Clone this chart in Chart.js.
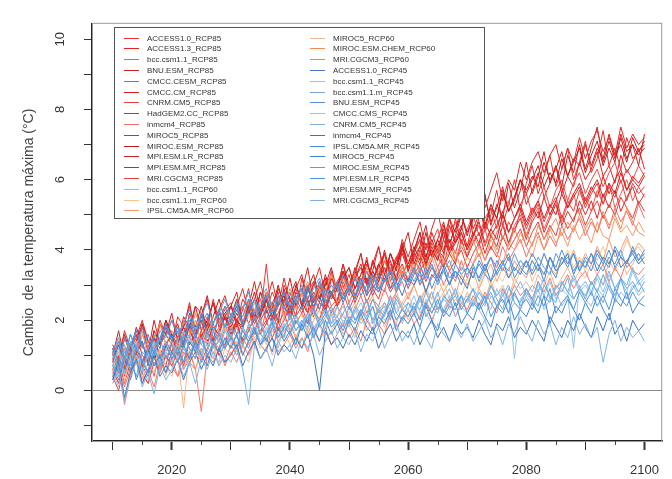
<!DOCTYPE html>
<html>
<head>
<meta charset="utf-8">
<script src="https://cdn.jsdelivr.net/npm/chart.js@4.4.0/dist/chart.umd.min.js"></script>
<style>
  body { margin: 0; background: #fff; }
  canvas { display: block; }
</style>
</head>
<body>
<canvas id="my-chart" width="672" height="479"></canvas>
<script>
'use strict';

// Years
let years = [
  2010, 2011, 2012, 2013, 2014, 2015, 2016, 2017, 2018, 2019,
  2020, 2021, 2022, 2023, 2024, 2025, 2026, 2027, 2028, 2029,
  2030, 2031, 2032, 2033, 2034, 2035, 2036, 2037, 2038, 2039,
  2040, 2041, 2042, 2043, 2044, 2045, 2046, 2047, 2048, 2049,
  2050, 2051, 2052, 2053, 2054, 2055, 2056, 2057, 2058, 2059,
  2060, 2061, 2062, 2063, 2064, 2065, 2066, 2067, 2068, 2069,
  2070, 2071, 2072, 2073, 2074, 2075, 2076, 2077, 2078, 2079,
  2080, 2081, 2082, 2083, 2084, 2085, 2086, 2087, 2088, 2089,
  2090, 2091, 2092, 2093, 2094, 2095, 2096, 2097, 2098, 2099,
  2100];

let xTickLabels = [2020, 2040, 2060, 2080, 2100];
let yTickLabels = [0, 2, 4, 6, 8, 10];

// RCP85
let access10_85 = [
  1.1, 0.6, 1.5, 1.3, 0.8, 1.9, 1.4, 1.2, 2.0, 1.6,
  1.3, 2.1, 1.8, 1.5, 2.4, 2.2, 1.7, 2.6, 2.0, 2.3,
  2.5, 1.8, 2.3, 2.9, 2.0, 2.2, 2.8, 2.4, 1.9, 3.0,
  2.6, 2.1, 3.2, 2.5, 2.3, 3.1, 2.6, 3.4, 2.4, 2.9,
  3.3, 2.7, 3.0, 3.8, 2.9, 3.2, 3.9, 3.1, 3.5, 4.2,
  3.4, 3.9, 4.5, 3.5, 4.1, 3.7, 4.6, 4.0, 4.9, 4.2,
  4.1, 4.9, 5.4, 4.5, 5.0, 5.7, 4.7, 5.3, 6.0, 5.1,
  5.9, 6.4, 5.6, 6.1, 6.7, 5.8, 6.3, 6.9, 6.0, 6.5,
  7.1, 6.2, 6.6, 7.4, 6.4, 6.9, 6.3, 7.2, 6.6, 6.8,
  7.0];
let access13_85 = [
  0.9, 1.4, 0.7, 1.2, 1.6, 1.0, 0.8, 1.7, 1.3, 1.9,
  1.5, 1.2, 2.0, 1.7, 1.4, 2.2, 1.9, 2.5, 1.8, 2.1,
  2.4, 1.9, 2.6, 2.3, 2.0, 2.8, 2.5, 3.1, 2.4, 2.7,
  2.1, 2.8, 2.5, 3.0, 2.3, 2.8, 3.2, 2.6, 2.9, 3.4,
  2.8, 3.2, 3.6, 3.0, 3.7, 3.3, 3.1, 3.9, 3.5, 4.1,
  3.5, 3.9, 4.3, 3.7, 4.5, 4.0, 3.8, 4.7, 4.2, 4.6,
  5.3, 4.6, 5.0, 5.5, 4.8, 5.2, 5.8, 5.1, 5.4, 6.0,
  5.3, 5.7, 6.2, 5.5, 5.9, 6.4, 5.6, 6.1, 5.8, 6.5,
  6.0, 6.3, 6.8, 6.1, 6.4, 5.9, 6.7, 6.2, 6.5, 6.9,
  6.3];
let bcc_85 = [
  0.5, 0.9, 0.2, 0.8, 1.2, 0.6, 1.0, 0.4, 1.1, 0.9,
  1.3, 0.8, 1.2, 1.6, 1.1, 0.9, 1.7, 1.4, 1.2, 1.8,
  1.5, 2.0, 1.3, 1.7, 2.1, 1.6, 2.3, 1.9, 1.7, 2.4,
  2.0, 2.5, 2.2, 1.9, 2.7, 2.3, 2.9, 2.4, 2.6, 3.0,
  2.5, 2.9, 3.2, 2.7, 3.4, 3.0, 2.8, 3.6, 3.2, 3.5,
  3.1, 3.8, 3.4, 3.7, 4.0, 3.5, 3.9, 4.3, 3.7, 4.1,
  3.8, 4.4, 4.1, 4.6, 4.0, 4.5, 4.8, 4.2, 4.7, 5.0,
  4.4, 4.9, 5.2, 4.6, 5.0, 5.4, 4.8, 5.3, 5.6, 5.0,
  5.5, 5.1, 5.7, 5.3, 5.9, 5.2, 5.6, 6.0, 5.4, 5.8,
  5.5];
let bnu_85 = [
  1.2, 0.8, 1.6, 1.0, 1.4, 1.9, 1.1, 1.5, 1.3, 2.0,
  1.6, 1.3, 2.1, 1.8, 2.4, 1.7, 2.0, 2.5, 1.9, 2.2,
  2.4, 2.0, 1.7, 2.6, 2.1, 2.8, 2.2, 2.5, 2.0, 2.9,
  2.3, 3.0, 2.5, 2.2, 3.1, 2.6, 3.3, 2.7, 2.5, 3.4,
  2.9, 3.5, 3.0, 2.8, 3.7, 3.2, 4.0, 3.3, 3.7, 4.2,
  3.6, 4.1, 3.7, 4.5, 3.8, 4.3, 4.8, 4.0, 4.4, 5.0,
  4.4, 5.0, 5.4, 4.6, 5.2, 4.9, 5.7, 5.1, 5.5, 6.0,
  5.7, 6.1, 5.8, 6.5, 6.0, 6.3, 6.8, 6.1, 6.6, 6.4,
  7.0, 6.4, 6.9, 6.6, 7.3, 6.7, 7.0, 6.5, 7.2, 6.8,
  7.1];
let cmccCesm_85 = [
  0.8, 1.3, 0.5, 1.0, 1.4, 0.7, 1.2, 1.5, 0.9, 1.3,
  1.6, 1.1, 1.5, 1.9, 1.3, 1.7, 2.1, 1.5, 1.8, 2.2,
  1.7, 2.0, 2.4, 1.9, 2.3, 2.6, 2.0, 2.5, 2.8, 2.2,
  2.6, 2.9, 2.4, 2.8, 3.1, 2.6, 3.0, 3.3, 2.8, 3.2,
  3.5, 2.9, 3.3, 3.7, 3.1, 3.6, 3.9, 3.4, 3.8, 4.1,
  3.6, 4.0, 4.3, 3.8, 4.2, 4.6, 4.0, 4.5, 4.8, 4.2,
  4.6, 5.0, 4.4, 4.9, 5.2, 4.6, 5.1, 5.4, 4.9, 5.3,
  5.6, 5.0, 5.4, 5.8, 5.2, 5.7, 6.0, 5.4, 5.9, 6.2,
  5.6, 6.0, 6.3, 5.8, 6.2, 6.5, 5.9, 6.3, 6.0, 6.4,
  6.1];
let cmccCm_85 = [
  1.0, 1.7, 0.9, 0.5, 1.4, 1.8, 1.1, 2.0, 1.3, 1.6,
  2.2, 1.4, 1.8, 2.5, 1.6, 2.1, 2.7, 1.9, 2.3, 1.8,
  2.4, 2.8, 1.9, 2.4, 3.1, 2.2, 2.6, 2.0, 2.9, 2.5,
  3.2, 2.4, 2.8, 3.5, 2.5, 3.0, 2.3, 3.2, 2.9, 3.6,
  2.8, 3.3, 3.9, 3.0, 3.4, 4.1, 3.3, 3.7, 3.1, 4.0,
  4.5, 3.6, 4.1, 4.7, 3.8, 4.3, 3.9, 4.9, 4.2, 4.6,
  5.3, 4.4, 4.9, 5.6, 4.7, 5.3, 4.9, 5.9, 5.2, 5.7,
  6.5, 5.6, 6.1, 6.8, 5.9, 6.4, 5.8, 6.7, 6.2, 7.0,
  6.3, 6.9, 7.5, 6.5, 7.1, 6.6, 7.3, 6.8, 7.0, 6.4,
  7.3];
let cnrm_85 = [
  0.6, 1.0, 0.4, 1.2, 0.8, 0.5, 1.3, 0.9, 1.1, 0.7,
  1.4, 1.0, 1.6, 1.2, 0.9, 1.7, 1.3, 1.9, 1.5, 1.3,
  2.0, 1.6, 1.9, 2.3, 1.7, 2.1, 3.6, 1.9, 2.2, 2.6,
  2.1, 2.4, 2.8, 2.2, 2.6, 3.0, 2.4, 2.8, 2.5, 3.1,
  2.7, 3.2, 2.9, 3.4, 3.0, 3.6, 3.1, 3.4, 3.8, 3.2,
  3.7, 3.4, 4.0, 3.6, 4.2, 3.8, 3.5, 4.3, 3.9, 4.5,
  4.0, 4.4, 4.7, 4.1, 4.6, 4.9, 4.3, 4.8, 4.5, 5.1,
  4.6, 5.0, 5.3, 4.8, 5.2, 5.5, 4.9, 5.4, 5.1, 5.7,
  5.2, 5.6, 5.9, 5.3, 5.8, 5.5, 6.0, 5.4, 5.9, 5.6,
  5.8];
let hadgem_85 = [
  1.3, 0.9, 1.7, 1.2, 1.5, 2.0, 1.4, 1.1, 1.9, 1.6,
  2.0, 1.5, 1.8, 2.4, 1.7, 2.1, 2.6, 1.9, 2.3, 2.7,
  2.1, 2.4, 2.9, 2.2, 2.6, 3.1, 2.3, 2.8, 2.4, 3.2,
  2.5, 2.9, 3.3, 2.6, 3.0, 3.5, 2.7, 3.2, 2.9, 3.6,
  3.0, 3.4, 3.9, 3.1, 3.6, 4.1, 3.3, 3.9, 3.5, 4.3,
  3.8, 4.3, 4.8, 4.0, 4.6, 5.1, 4.3, 4.9, 4.5, 5.3,
  4.9, 5.5, 5.9, 5.2, 5.7, 6.2, 5.4, 6.0, 5.7, 6.5,
  6.0, 6.5, 6.8, 6.2, 6.7, 7.0, 6.3, 6.9, 6.5, 7.2,
  6.6, 7.1, 7.4, 6.8, 7.2, 6.7, 7.5, 6.9, 7.3, 7.0,
  7.2];
let inmcm4_85 = [
  0.3, 0.7, 0.1, 0.6, 0.9, 0.4, 0.2, 0.8, 0.5, 1.0,
  0.7, 0.4, 1.1, 0.8, 0.6, 1.2, 0.9, 1.4, 1.0, 0.8,
  1.3, 1.0, 1.5, 1.2, 1.7, 1.3, 1.1, 1.8, 1.4, 1.6,
  1.9, 1.5, 1.8, 2.2, 1.7, 2.0, 2.4, 1.9, 2.1, 2.5,
  2.0, 2.3, 2.7, 2.2, 2.6, 2.4, 2.9, 2.5, 2.8, 3.1,
  2.6, 3.0, 3.3, 2.8, 3.2, 3.5, 3.0, 3.4, 3.1, 3.7,
  3.2, 3.6, 3.9, 3.4, 3.8, 3.5, 4.1, 3.7, 4.0, 4.3,
  3.8, 4.2, 4.5, 4.0, 4.4, 4.1, 4.7, 4.3, 4.6, 4.9,
  4.4, 4.8, 4.5, 5.0, 4.6, 5.2, 4.8, 5.1, 4.7, 5.3,
  4.9];
let miroc5_85 = [
  0.6, 0.2, 0.9, 0.5, 1.1, 0.7, 0.4, 1.0, 0.8, 1.3,
  0.9, 1.2, 0.7, 1.4, 1.1, 1.6, 1.0, 1.3, 1.7, 1.2,
  1.5, 1.9, 1.4, 1.7, 2.1, 1.6, 1.9, 2.3, 1.7, 2.0,
  2.4, 1.9, 2.2, 2.6, 2.1, 2.5, 2.3, 2.8, 2.4, 2.7,
  3.0, 2.5, 2.9, 3.2, 2.7, 3.1, 3.5, 2.9, 3.3, 3.6,
  3.1, 3.5, 3.9, 3.3, 3.7, 4.1, 3.5, 3.9, 3.6, 4.3,
  3.8, 4.2, 4.5, 3.9, 4.4, 4.1, 4.7, 4.2, 4.6, 4.9,
  4.3, 4.8, 5.1, 4.5, 4.9, 5.3, 4.7, 5.1, 4.8, 5.4,
  5.0, 5.4, 4.9, 5.6, 5.2, 5.7, 5.1, 5.5, 5.8, 5.3,
  5.6];
let mirocEsm_85 = [
  1.2, 0.7, 1.5, 1.1, 1.8, 1.3, 1.0, 1.7, 1.4, 2.0,
  1.5, 1.9, 1.3, 2.2, 1.8, 2.4, 1.7, 2.1, 2.6, 2.0,
  2.1, 2.6, 1.9, 2.3, 2.8, 2.1, 2.6, 2.3, 3.0, 2.4,
  2.7, 3.1, 2.4, 2.9, 3.3, 2.6, 3.0, 3.5, 2.8, 3.2,
  3.5, 2.9, 3.3, 3.7, 3.1, 3.6, 3.3, 3.9, 3.4, 4.1,
  3.6, 4.0, 4.5, 3.8, 4.3, 3.9, 4.7, 4.2, 4.6, 5.0,
  4.5, 4.9, 5.4, 4.7, 5.3, 4.9, 5.6, 5.1, 5.5, 6.0,
  5.6, 6.0, 6.4, 5.8, 6.2, 5.9, 6.6, 6.1, 6.5, 6.9,
  6.2, 6.7, 7.1, 6.4, 6.9, 6.5, 7.2, 6.6, 7.0, 6.7,
  6.9];
let mpiLr_85 = [
  0.9, 0.5, 1.2, 0.7, 1.0, 1.4, 0.8, 1.1, 0.6, 1.3,
  1.6, 1.0, 1.4, 1.8, 1.2, 1.5, 1.9, 1.4, 1.7, 2.1,
  1.6, 2.0, 1.8, 2.3, 1.9, 2.2, 2.6, 2.0, 2.4, 2.7,
  2.2, 2.6, 2.9, 2.4, 2.8, 2.5, 3.1, 2.7, 3.0, 3.3,
  2.8, 3.2, 3.5, 3.0, 3.4, 3.1, 3.7, 3.3, 3.6, 3.9,
  3.4, 3.8, 4.1, 3.6, 4.0, 3.7, 4.3, 3.9, 4.2, 4.5,
  4.0, 4.4, 4.8, 4.2, 4.6, 4.3, 5.0, 4.5, 4.9, 5.2,
  4.7, 5.1, 5.4, 4.9, 5.3, 5.0, 5.6, 5.2, 5.5, 5.8,
  5.3, 5.7, 6.0, 5.5, 5.9, 5.6, 6.2, 5.7, 6.0, 5.8,
  6.1];
let mpiMr_85 = [
  0.7, 1.1, 0.6, 0.9, 1.3, 0.8, 1.2, 1.5, 1.0, 1.4,
  1.1, 1.5, 1.8, 1.3, 1.6, 2.0, 1.4, 1.8, 1.6, 2.1,
  1.8, 2.2, 1.9, 2.4, 2.0, 2.3, 2.7, 2.1, 2.5, 2.8,
  2.3, 2.7, 2.5, 3.0, 2.6, 2.9, 3.2, 2.7, 3.1, 3.4,
  2.9, 3.3, 3.0, 3.6, 3.2, 3.5, 3.9, 3.3, 3.7, 4.0,
  3.5, 3.9, 3.6, 4.2, 3.8, 4.1, 4.5, 3.9, 4.3, 4.7,
  4.1, 4.5, 4.2, 4.8, 4.4, 4.7, 5.1, 4.5, 4.9, 5.3,
  4.8, 5.2, 4.9, 5.5, 5.0, 5.4, 5.8, 5.2, 5.6, 5.9,
  5.4, 5.8, 5.5, 6.1, 5.6, 6.0, 6.3, 5.7, 6.1, 5.9,
  6.2];
let mri_85 = [
  0.4, 0.0, 0.7, 0.3, 0.9, 0.5, 0.2, 0.8, 0.6, 1.0,
  0.7, 1.1, 0.6, 0.9, 1.3, 0.8, 1.2, 1.5, 1.0, 1.3,
  1.6, 1.2, 1.5, 1.8, 1.3, 1.7, 2.0, 1.5, 1.9, 2.2,
  1.7, 2.1, 2.4, 1.9, 2.3, 2.0, 2.6, 2.2, 2.5, 2.8,
  2.3, 2.7, 3.0, 2.5, 2.9, 2.6, 3.2, 2.8, 3.1, 3.4,
  2.9, 3.3, 3.6, 3.1, 3.5, 3.2, 3.8, 3.4, 3.7, 4.0,
  3.5, 3.9, 4.2, 3.7, 4.1, 3.8, 4.4, 4.0, 4.3, 4.6,
  4.1, 4.5, 4.8, 4.3, 4.7, 4.4, 5.0, 4.6, 4.9, 5.2,
  4.7, 5.1, 5.4, 4.9, 5.3, 5.0, 5.5, 5.2, 4.9, 5.4,
  5.1];

// RCP60
let bcc_60 = [
  0.9, 0.4, 1.2, 0.7, 1.0, 0.3, 0.8, 1.3, 0.6, 1.1,
  0.8, 1.4, 1.0, 0.7, 1.5, 1.1, 1.3, 0.9, 1.6, 1.2,
  1.5, 1.1, 1.8, 1.3, 1.6, 2.0, 1.4, 1.7, 1.5, 2.1,
  1.7, 1.9, 2.2, 1.6, 2.0, 2.3, 1.8, 2.1, 2.4, 1.9,
  2.2, 2.5, 2.0, 2.4, 2.7, 2.1, 2.5, 2.3, 2.8, 2.4,
  2.7, 3.0, 2.5, 2.9, 2.6, 3.2, 2.8, 3.1, 2.7, 3.3,
  3.0, 3.4, 2.9, 3.3, 3.6, 3.1, 3.5, 3.2, 3.7, 3.4,
  3.2, 3.7, 3.4, 3.9, 3.5, 3.3, 3.8, 3.6, 4.0, 3.5,
  3.9, 3.6, 4.1, 3.7, 4.3, 3.8, 4.0, 4.4, 3.9, 4.2,
  4.0];
let bccM_60 = [
  0.6, 1.1, 0.3, 0.9, 1.4, 0.5, 1.0, 0.7, 1.2, 0.4,
  1.0, 1.3, 0.8, 1.5, 1.1, 0.9, 1.6, 1.2, 1.4, 1.8,
  1.3, 1.6, 1.2, 1.9, 1.5, 1.7, 1.3, 2.0, 1.6, 1.8,
  2.1, 1.5, 1.9, 1.7, 2.2, 1.8, 2.0, 2.4, 1.9, 2.2,
  1.8, 2.3, 2.1, 2.6, 2.0, 2.4, 2.2, 2.7, 2.3, 2.5,
  2.8, 2.2, 2.6, 2.9, 2.4, 2.7, 3.1, 2.6, 2.9, 2.7,
  3.2, 2.8, 3.0, 3.4, 2.9, 3.3, 3.1, 3.5, 3.0, 3.4,
  3.7, 3.1, 3.5, 3.3, 3.8, 3.4, 3.6, 4.0, 3.5, 3.8,
  3.4, 3.9, 3.7, 4.1, 3.6, 4.0, 3.8, 4.3, 3.9, 4.1,
  3.8];
let ipsl_60 = [
  1.1, 0.7, 1.5, 1.0, 1.3, 1.7, 0.9, 1.4, 1.2, 1.8,
  1.4, 1.1, 1.7, 1.5, 2.0, 1.3, 1.8, 1.6, 2.2, 1.7,
  1.9, 2.3, 1.8, 2.1, 2.5, 1.9, 2.4, 2.2, 2.7, 2.1,
  2.5, 2.3, 2.8, 2.4, 2.2, 2.9, 2.6, 3.0, 2.5, 2.8,
  3.1, 2.6, 3.0, 2.8, 3.3, 2.9, 3.4, 3.1, 2.8, 3.5,
  3.2, 3.6, 3.0, 3.4, 3.8, 3.3, 3.7, 3.5, 4.0, 3.4,
  3.8, 3.6, 4.1, 3.7, 4.3, 3.9, 3.6, 4.2, 4.0, 4.5,
  4.1, 3.8, 4.4, 4.0, 4.6, 4.2, 4.5, 4.1, 4.7, 4.3,
  4.6, 4.2, 4.8, 4.4, 4.3, 4.9, 4.5, 4.7, 4.4, 4.8,
  4.5];
let miroc5_60 = [
  0.5, 0.9, -0.3, 0.6, 1.0, 0.3, 0.8, 0.5, 1.1, 0.7,
  0.4, 1.0, -0.5, 1.2, 0.6, 1.1, 0.9, 1.3, 0.7, 1.2,
  1.0, 1.4, 1.1, 0.8, 1.5, 1.2, 1.6, 1.0, 1.4, 1.7,
  1.3, 1.6, 1.2, 1.8, 1.5, 1.9, 1.4, 1.7, 2.0, 1.6,
  1.9, 1.5, 2.1, 1.7, 2.0, 2.3, 1.8, 2.2, 1.9, 2.4,
  2.0, 2.3, 2.1, 2.6, 2.2, 2.5, 2.8, 2.3, 2.6, 2.4,
  2.8, 2.5, 2.9, 2.6, 3.1, 2.7, 3.0, 2.6, 3.2, 2.9,
  3.1, 2.8, 3.3, 3.0, 3.4, 2.9, 3.2, 3.5, 3.1, 3.4,
  3.2, 3.6, 3.3, 3.0, 3.7, 3.4, 3.8, 3.3, 3.6, 3.9,
  3.6];
let mirocChem_60 = [
  1.0, 1.4, 0.8, 1.3, 0.9, 1.6, 1.2, 1.5, 1.9, 1.3,
  1.7, 1.4, 2.0, 1.6, 2.2, 1.8, 1.5, 2.1, 1.9, 2.4,
  2.0, 2.3, 1.9, 2.6, 2.2, 2.5, 2.8, 2.3, 2.6, 2.4,
  2.9, 2.5, 2.7, 3.1, 2.6, 3.0, 2.8, 3.3, 2.9, 3.2,
  2.8, 3.3, 3.0, 3.5, 3.1, 3.4, 3.7, 3.2, 3.6, 3.3,
  3.7, 3.4, 3.9, 3.5, 3.8, 4.1, 3.6, 4.0, 3.7, 4.2,
  3.9, 4.3, 3.8, 4.2, 4.5, 4.0, 4.4, 4.1, 4.6, 4.2,
  4.5, 4.1, 4.7, 4.3, 4.6, 4.9, 4.4, 4.8, 4.5, 5.0,
  4.6, 4.9, 4.5, 5.1, 4.7, 5.0, 4.6, 5.2, 4.8, 4.5,
  4.4];
let mri_60 = [
  0.3, 0.7, -0.4, 0.4, 0.9, 0.2, 0.6, 0.1, 0.8, 0.5,
  0.9, 0.4, 0.7, 1.1, 0.6, -0.6, 1.0, 0.8, 1.2, 0.7,
  1.1, 0.8, 1.3, 1.0, 1.4, 0.9, 1.2, 1.5, 1.1, 1.3,
  1.6, 1.2, 1.5, 1.1, 1.7, 1.4, 1.8, 1.3, 1.6, 1.9,
  1.5, 1.8, 1.4, 2.0, 1.7, 1.9, 1.6, 2.2, 1.8, 2.0,
  2.3, 1.9, 2.1, 2.5, 2.0, 2.4, 2.2, 2.6, 2.1, 2.5,
  2.3, 2.7, 2.4, 2.8, 2.5, 2.2, 2.9, 2.6, 3.0, 2.7,
  2.9, 2.5, 3.1, 2.8, 3.2, 2.7, 3.0, 3.3, 2.9, 3.2,
  3.4, 3.0, 3.3, 3.6, 3.1, 3.5, 3.2, 3.7, 3.4, 3.3,
  3.5];

// RCP45
let access10_45 = [
  0.8, 1.3, 0.9, 1.6, 1.1, 1.4, 0.7, 1.5, 1.2, 1.8,
  1.4, 1.7, 1.2, 1.9, 1.5, 2.1, 1.6, 1.4, 2.2, 1.8,
  2.0, 2.4, 1.8, 2.2, 2.6, 2.0, 2.3, 1.9, 2.7, 2.4,
  2.1, 2.6, 2.3, 2.9, 2.4, 2.7, 2.2, 2.8, 3.0, 2.5,
  2.9, 2.6, 3.2, 2.7, 3.0, 2.8, 3.3, 2.9, 3.1, 2.7,
  3.2, 3.0, 3.4, 2.8, 3.3, 3.1, 3.5, 3.0, 3.4, 3.2,
  2.9, 3.5, 3.2, 3.6, 3.1, 3.4, 3.7, 3.2, 3.5, 3.3,
  3.7, 3.3, 3.6, 3.1, 3.8, 3.4, 3.6, 3.9, 3.3, 3.7,
  3.5, 3.9, 3.4, 3.8, 3.6, 4.0, 3.5, 3.7, 3.9, 3.6,
  3.8];
let bcc_45 = [
  0.5, 0.1, 0.8, 0.4, 1.0, 0.6, 0.3, 0.9, 0.7, 1.1,
  0.8, 1.2, 0.6, 1.0, 1.3, 0.9, 1.4, 1.1, 0.8, 1.5,
  1.2, 1.6, 1.0, 1.4, 1.7, 1.3, 1.8, 1.5, 1.2, 1.9,
  1.6, 1.4, 2.0, 1.7, 1.5, 2.1, 1.8, 2.2, 1.6, 2.0,
  1.8, 2.3, 1.9, 2.1, 1.7, 2.4, 2.0, 2.2, 2.5, 1.9,
  2.3, 2.1, 2.6, 2.2, 1.9, 2.5, 2.3, 2.7, 2.1, 2.4,
  2.2, 2.6, 2.3, 2.0, 2.7, 2.4, 2.8, 2.2, 2.5, 2.3,
  2.7, 2.4, 2.9, 2.3, 2.6, 2.8, 2.4, 2.7, 1.2, 3.0,
  2.6, 2.4, 2.9, 2.7, 3.1, 2.5, 2.8, 2.6, 3.0, 2.7,
  2.9];
let bccM_45 = [
  1.0, 0.6, 1.3, 0.8, 0.4, 1.1, 0.9, 1.4, 0.7, 1.2,
  1.0, 1.5, 1.2, 0.9, 1.6, 1.3, 1.1, 1.7, 1.4, 1.2,
  1.8, 1.5, 1.3, 1.9, 1.6, 2.0, 1.4, 1.8, 2.1, 1.7,
  1.9, 2.2, 1.7, 2.0, 2.3, 1.8, 2.1, 2.4, 1.9, 2.2,
  2.5, 2.0, 2.3, 2.1, 2.6, 2.2, 2.4, 2.0, 2.7, 2.3,
  2.1, 2.5, 2.3, 2.8, 2.4, 2.2, 2.7, 2.5, 2.9, 2.3,
  2.6, 2.4, 2.8, 2.5, 3.0, 2.6, 2.3, 2.9, 2.7, 2.5,
  2.9, 2.6, 3.1, 2.7, 2.5, 3.0, 2.8, 3.2, 2.6, 2.9,
  2.7, 3.1, 2.8, 3.3, 2.9, 2.6, 3.2, 2.9, 3.1, 2.8,
  3.1];
let bnu_45 = [
  1.2, 0.8, 1.5, 1.1, 1.7, 1.3, 1.0, 1.6, 1.4, 1.9,
  1.5, 1.8, 1.3, 2.0, 1.7, 2.2, 1.6, 1.9, 2.3, 1.8,
  2.1, 2.5, 1.9, 2.3, 2.6, 2.2, 2.7, 2.0, 2.4, 2.8,
  2.3, 2.6, 2.9, 2.4, 2.7, 3.1, 2.5, 2.8, 3.0, 2.6,
  3.0, 2.7, 3.2, 2.8, 3.3, 2.9, 3.1, 3.4, 2.8, 3.2,
  3.0, 3.4, 3.1, 3.5, 2.9, 3.3, 3.6, 3.2, 3.4, 3.0,
  3.5, 3.2, 3.6, 3.3, 3.1, 3.7, 3.4, 3.8, 3.2, 3.5,
  3.3, 3.7, 3.4, 3.9, 3.5, 3.2, 3.8, 3.5, 3.9, 3.4,
  3.7, 3.4, 3.9, 3.6, 4.0, 3.5, 3.8, 3.6, 4.1, 3.7,
  3.9];
let cmcc_45 = [
  0.7, 1.2, 0.5, 0.9, 1.3, 0.6, 1.0, 1.4, 0.8, 1.1,
  1.4, 0.9, 1.2, 1.6, 1.1, 1.5, 1.0, 1.3, 1.7, 1.2,
  1.6, 1.3, 1.8, 1.5, 1.9, 1.4, 1.7, 2.0, 1.6, 1.9,
  1.7, 2.1, 1.8, 2.2, 1.6, 2.0, 2.3, 1.9, 2.1, 2.4,
  2.0, 2.2, 2.5, 2.1, 2.4, 1.9, 2.3, 2.6, 2.2, 2.5,
  2.3, 2.7, 2.2, 2.5, 2.8, 2.3, 2.6, 2.4, 2.9, 2.5,
  2.7, 2.4, 2.8, 2.6, 2.3, 2.9, 2.5, 2.7, 0.9, 2.6,
  2.8, 2.5, 3.0, 2.7, 3.1, 2.6, 2.9, 2.7, 3.2, 2.8,
  3.0, 2.7, 3.2, 2.8, 3.3, 2.9, 3.1, 2.8, 3.4, 3.0,
  3.2];
let cnrm_45 = [
  0.8, 0.4, 1.1, 0.7, 1.3, 0.9, 0.5, 1.2, 0.8, 1.4,
  1.0, 1.3, 0.8, 1.5, 1.2, 1.0, 1.6, 1.3, 1.1, 1.7,
  1.4, 1.2, 1.8, 1.5, 1.3, 1.9, 1.6, 2.0, 1.5, 1.8,
  2.1, 1.7, 1.9, 2.2, 1.8, 2.0, 2.3, 1.9, 2.4, 2.1,
  1.9, 2.4, 2.2, 2.6, 2.0, 2.3, 2.5, 2.1, 2.6, 2.3,
  2.5, 2.2, 2.7, 2.4, 2.8, 2.3, 2.6, 2.9, 2.4, 2.7,
  2.5, 2.9, 2.6, 2.4, 3.0, 2.7, 2.9, 2.5, 2.8, 3.1,
  2.7, 3.0, 2.8, 3.2, 2.6, 2.9, 3.1, 2.8, 3.3, 2.9,
  3.1, 2.8, 3.3, 3.0, 3.4, 2.9, 3.2, 3.0, 3.5, 3.1,
  3.3];
let inmcm4_45 = [
  0.3, 0.8, -0.2, 0.5, 0.9, 0.2, 0.6, 1.0, 0.4, 0.7,
  0.5, 0.9, 0.3, 0.8, 1.1, 0.6, 1.0, 0.7, 1.2, 0.8,
  1.0, 1.3, 0.7, 1.1, 1.4, 0.9, 1.2, 1.5, 1.0, 1.3,
  1.1, 1.5, 1.2, 1.6, 1.0, 0.0, 1.7, 1.3, 1.5, 1.2,
  1.6, 1.3, 1.7, 1.4, 1.8, 1.2, 1.6, 1.9, 1.4, 1.7,
  1.5, 1.9, 1.3, 1.7, 2.0, 1.5, 1.8, 1.4, 1.9, 1.6,
  1.8, 1.5, 2.0, 1.6, 1.3, 1.9, 1.7, 2.1, 1.5, 1.8,
  1.6, 2.0, 1.7, 1.4, 2.1, 1.8, 1.5, 2.0, 1.7, 2.2,
  1.8, 1.5, 2.1, 1.7, 2.2, 1.6, 1.9, 1.4, 2.0, 1.7,
  1.9];
let ipsl_45 = [
  1.1, 1.5, 0.9, 1.3, 1.7, 1.2, 1.6, 1.0, 1.5, 1.9,
  1.4, 1.8, 1.6, 2.1, 1.5, 1.9, 2.2, 1.7, 2.0, 2.4,
  1.9, 2.3, 2.1, 2.6, 2.0, 2.4, 2.7, 2.2, 2.5, 2.8,
  2.4, 2.7, 2.5, 3.0, 2.6, 2.3, 2.9, 2.7, 3.1, 2.6,
  2.9, 3.2, 2.7, 3.0, 3.3, 2.8, 3.1, 3.4, 2.9, 3.3,
  3.1, 3.5, 3.0, 3.3, 3.6, 3.2, 3.4, 3.0, 3.6, 3.3,
  3.5, 3.2, 3.7, 3.4, 3.8, 3.3, 3.6, 3.9, 3.4, 3.7,
  3.5, 3.9, 3.6, 3.3, 3.8, 3.5, 4.0, 3.6, 3.9, 3.4,
  3.8, 3.6, 4.0, 3.7, 3.5, 4.1, 3.8, 3.6, 4.0, 3.7,
  4.0];
let miroc5_45 = [
  0.4, 0.9, 0.6, 1.1, 0.3, 0.8, 1.2, 0.7, 1.0, 0.5,
  1.1, 0.8, 1.3, 0.9, 1.4, 1.0, 0.7, 1.3, 1.1, 1.5,
  1.2, 1.6, 1.0, 1.4, 1.7, 1.3, 1.5, 1.1, 1.8, 1.4,
  1.7, 1.3, 1.9, 1.5, 1.8, 1.4, 2.0, 1.6, 1.9, 1.5,
  2.0, 1.7, 2.2, 1.8, 1.6, 2.1, 1.9, 2.3, 1.7, 2.1,
  1.9, 2.2, 1.8, 2.4, 2.0, 1.7, 2.3, 2.1, 2.5, 1.9,
  2.2, 2.0, 2.5, 2.1, 1.8, 2.4, 2.2, 2.6, 2.0, 2.3,
  2.1, 2.5, 2.2, 2.7, 1.9, 2.4, 2.2, 2.6, 2.3, 2.0,
  2.5, 2.2, 2.7, 2.3, 2.0, 2.6, 2.4, 2.8, 2.2, 2.5,
  2.4];
let mirocEsm_45 = [
  1.0, 1.4, 0.9, 1.6, 1.2, 1.8, 1.3, 1.1, 1.7, 1.5,
  2.0, 1.6, 1.9, 2.3, 1.7, 2.1, 2.5, 1.9, 2.2, 2.6,
  2.1, 2.5, 2.3, 2.8, 2.2, 2.6, 2.9, 2.4, 2.7, 2.3,
  2.8, 2.5, 3.0, 2.6, 2.9, 3.2, 2.7, 3.0, 2.8, 3.3,
  2.9, 3.2, 3.0, 3.4, 2.8, 3.3, 3.1, 3.5, 3.0, 3.2,
  3.4, 3.1, 3.5, 3.2, 3.6, 3.0, 3.4, 3.7, 3.2, 3.5,
  3.3, 3.6, 3.1, 3.5, 3.8, 3.3, 3.6, 3.4, 3.9, 3.5,
  3.7, 3.4, 3.8, 3.5, 3.3, 3.9, 3.6, 3.8, 3.4, 3.7,
  3.5, 3.9, 3.6, 3.4, 3.8, 3.6, 4.0, 3.5, 3.7, 3.9,
  3.6];
let mpiLr_45 = [
  0.7, 0.3, 1.0, 0.6, 1.2, 0.8, 0.5, 1.1, 0.9, 1.3,
  0.9, 1.2, 0.8, 1.4, 1.1, 1.5, 1.0, 1.3, 1.6, 1.2,
  1.5, 1.2, 1.7, 1.4, 1.8, 1.3, 1.6, 1.9, 1.5, 1.8,
  1.6, 2.0, 1.7, 2.1, 1.5, 1.9, 2.2, 1.8, 2.0, 1.7,
  2.1, 1.9, 2.3, 2.0, 2.4, 1.8, 2.2, 2.5, 2.0, 2.3,
  2.1, 2.4, 2.0, 2.5, 2.2, 2.6, 2.1, 2.4, 2.3, 2.7,
  2.2, 2.5, 2.3, 2.7, 2.1, 2.4, 2.6, 2.2, 2.8, 2.4,
  2.6, 2.3, 2.7, 2.4, 2.9, 2.2, 2.5, 2.7, 2.3, 2.8,
  2.5, 2.8, 2.4, 2.7, 2.3, 2.9, 2.6, 2.4, 2.8, 2.5,
  2.7];
let mpiMr_45 = [
  1.1, 0.6, 0.9, 1.4, 0.8, 0.5, 1.2, 1.0, 1.5, 0.9,
  1.3, 1.0, 1.6, 1.2, 0.9, 1.5, 1.7, 1.2, 1.4, 1.9,
  1.5, 1.8, 1.3, 1.7, 2.1, 1.6, 1.4, 2.0, 1.8, 1.5,
  2.2, 1.7, 2.0, 1.8, 2.4, 1.9, 1.6, 2.3, 2.1, 1.8,
  2.4, 2.0, 2.2, 2.6, 1.9, 2.3, 2.1, 2.7, 2.2, 2.0,
  2.5, 2.3, 2.7, 2.1, 2.4, 2.8, 2.2, 2.5, 2.7, 2.3,
  2.6, 2.9, 2.3, 2.5, 2.8, 2.4, 2.7, 3.0, 2.5, 2.3,
  2.9, 2.6, 2.4, 3.0, 2.7, 2.5, 3.1, 2.8, 2.6, 2.9,
  2.6, 3.1, 2.8, 2.5, 3.0, 2.7, 3.2, 2.6, 2.9, 3.1,
  2.8];
let mri_45 = [
  0.2, 0.6, -0.3, 0.4, 0.8, 0.1, 0.5, -0.1, 0.7, 0.3,
  0.6, 0.9, 0.4, 0.8, 0.2, 0.9, 0.6, 1.1, 0.7, 1.0,
  0.8, 1.2, 0.6, -0.4, 1.3, 0.9, 1.2, 0.7, 1.4, 1.1,
  1.3, 0.9, 1.5, 1.2, 1.6, 1.0, 1.4, 1.7, 1.2, 1.5,
  1.3, 1.7, 1.1, 1.6, 1.4, 1.8, 1.2, 1.6, 1.9, 1.4,
  1.7, 1.3, 1.8, 1.5, 1.2, 1.9, 1.6, 1.4, 1.8, 1.5,
  1.9, 1.4, 1.7, 2.0, 1.5, 1.8, 1.3, 1.9, 1.6, 2.1,
  1.7, 1.4, 2.0, 1.6, 1.9, 1.3, 1.8, 1.5, 2.1, 1.6,
  1.9, 1.5, 1.8, 0.8, 1.6, 2.0, 1.4, 1.8, 1.5, 1.7,
  1.4];

let seriesNames = [
  'ACCESS1.0_RCP85', 'ACCESS1.3_RCP85', 'bcc.csm1.1_RCP85', 'BNU.ESM_RCP85', 'CMCC.CESM_RCP85',
  'CMCC.CM_RCP85', 'CNRM.CM5_RCP85', 'HadGEM2.CC_RCP85', 'inmcm4_RCP85', 'MIROC5_RCP85',
  'MIROC.ESM_RCP85', 'MPI.ESM.LR_RCP85', 'MPI.ESM.MR_RCP85', 'MRI.CGCM3_RCP85', 'bcc.csm1.1_RCP60',
  'bcc.csm1.1.m_RCP60', 'IPSL.CM5A.MR_RCP60', 'MIROC5_RCP60', 'MIROC.ESM.CHEM_RCP60', 'MRI.CGCM3_RCP60',
  'ACCESS1.0_RCP45', 'bcc.csm1.1_RCP45', 'bcc.csm1.1.m_RCP45', 'BNU.ESM_RCP45', 'CMCC.CMS_RCP45',
  'CNRM.CM5_RCP45', 'inmcm4_RCP45', 'IPSL.CM5A.MR_RCP45', 'MIROC5_RCP45', 'MIROC.ESM_RCP45',
  'MPI.ESM.LR_RCP45', 'MPI.ESM.MR_RCP45', 'MRI.CGCM3_RCP45'
];

let seriesValues = [
  access10_85, access13_85, bcc_85, bnu_85, cmccCesm_85, cmccCm_85, cnrm_85, hadgem_85, inmcm4_85,
  miroc5_85, mirocEsm_85, mpiLr_85, mpiMr_85, mri_85,
  bcc_60, bccM_60, ipsl_60, miroc5_60, mirocChem_60, mri_60,
  access10_45, bcc_45, bccM_45, bnu_45, cmcc_45, cnrm_45, inmcm4_45, ipsl_45, miroc5_45, mirocEsm_45,
  mpiLr_45, mpiMr_45, mri_45
];

let seriesColors = [
  '#e3342f', '#e8211d', '#f05a55', '#c81e1e', '#ee4b47', '#d11f1f', '#ea3f3a', '#e02a25', '#f26d6a',
  '#dd2a2a', '#c41a1a', '#cc2222', '#e81c1c', '#e5403a',
  '#f7a072', '#f9c28f', '#f59a6a', '#f8b48c', '#f28a55', '#f47a66',
  '#3f78c4', '#9ac0e6', '#6ea6dc', '#4f92d6', '#8fc5ee', '#79b3e6', '#3a72bc', '#4a8ed8', '#3f86d4',
  '#5b9de0', '#4d95dc', '#68a8e4', '#7db3e6'
];

const FONT = '"Liberation Sans", Arial, Helvetica, sans-serif';

// Plugin: plot box, zero line, minor x ticks, legend box
let extras = {
  id: 'extras',
  beforeDatasetsDraw(chart) {
    let ctx = chart.ctx;
    let a = chart.chartArea;
    let y = chart.scales.y;
    ctx.save();
    ctx.strokeStyle = '#9a9a9a';
    ctx.lineWidth = 1;
    ctx.strokeRect(a.left + 0.5, a.top - 0.5, a.right - a.left - 1, a.bottom - a.top + 1);
    let y0 = Math.round(y.getPixelForValue(0)) + 0.5;
    ctx.strokeStyle = '#8a8a8a';
    ctx.beginPath();
    ctx.moveTo(a.left, y0);
    ctx.lineTo(a.right, y0);
    ctx.stroke();
    ctx.restore();
  },
  afterDraw(chart) {
    let ctx = chart.ctx;
    let a = chart.chartArea;
    let x = chart.scales.x;
    ctx.save();
    // minor 5-year ticks
    ctx.strokeStyle = '#444';
    ctx.lineWidth = 1;
    for (let yr = 2015; yr <= 2095; yr += 10) {
      let px = Math.round(x.getPixelForValue(yr)) + 0.5;
      ctx.beginPath();
      ctx.moveTo(px, a.bottom);
      ctx.lineTo(px, a.bottom + 4);
      ctx.stroke();
    }
    // legend
    let lx = 114, ly = 27, lw = 370, lh = 191;
    ctx.fillStyle = '#fff';
    ctx.fillRect(lx, ly, lw, lh);
    ctx.strokeStyle = '#555';
    ctx.strokeRect(lx + 0.5, ly + 0.5, lw, lh);
    ctx.font = '8px ' + FONT;
    ctx.textBaseline = 'middle';
    ctx.textAlign = 'left';
    for (let i = 0; i < seriesNames.length; i++) {
      let col = i < 17 ? 0 : 1;
      let row = col === 0 ? i : i - 17;
      let sx = col === 0 ? 124 : 310;
      let sy = Math.round(ly + 10.5 + row * 10.8) + 0.5;
      ctx.strokeStyle = seriesColors[i];
      ctx.beginPath();
      ctx.moveTo(sx, sy);
      ctx.lineTo(sx + 15, sy);
      ctx.stroke();
      ctx.fillStyle = '#333';
      ctx.fillText(seriesNames[i], sx + 23, sy);
    }
    ctx.restore();
  }
};

let datasets = [];
for (let i = 0; i < seriesValues.length; i++) {
  datasets.push({
    label: seriesNames[i],
    data: seriesValues[i].map((v, j) => ({ x: years[j], y: v })),
    borderColor: seriesColors[i],
    backgroundColor: seriesColors[i],
    borderWidth: 1,
    pointRadius: 0,
    tension: 0,
    fill: false,
    order: seriesValues.length - i
  });
}

let canvasElem = document.getElementById('my-chart');

new Chart(canvasElem, {
  type: 'line',
  data: { datasets: datasets },
  options: {
    responsive: false,
    devicePixelRatio: 1,
    animation: false,
    layout: { padding: { top: 13, right: 2, left: 0, bottom: 0 } },
    plugins: {
      legend: { display: false },
      tooltip: { enabled: false }
    },
    scales: {
      x: {
        type: 'linear',
        min: 2006.5,
        max: 2103,
        afterFit: (s) => { s.height = 38; },
        grid: {
          drawOnChartArea: false,
          tickLength: 9,
          tickColor: '#333',
          tickWidth: (c) => (xTickLabels.includes(c.tick.value) ? 2 : 1)
        },
        border: { display: true, color: '#222', width: 1.5 },
        ticks: {
          stepSize: 10,
          includeBounds: false,
          autoSkip: false,
          maxRotation: 0,
          padding: 13,
          color: '#333',
          font: { family: FONT, size: 13 },
          callback: (v) => (xTickLabels.includes(Math.round(v)) ? String(Math.round(v)) : '')
        }
      },
      y: {
        type: 'linear',
        min: -1.44,
        max: 10.44,
        afterFit: (s) => { s.width = 92; },
        grid: {
          drawOnChartArea: false,
          tickLength: 8,
          tickColor: '#333',
          tickWidth: 1
        },
        border: { display: true, color: '#222', width: 1.5 },
        ticks: {
          stepSize: 1,
          includeBounds: false,
          autoSkip: false,
          minRotation: 90,
          maxRotation: 90,
          crossAlign: 'center',
          padding: 16,
          color: '#333',
          font: { family: FONT, size: 13 },
          callback: (v) => (yTickLabels.includes(Math.round(v)) ? String(Math.round(v)) : '')
        },
        title: {
          display: true,
          text: 'Cambio  de la temperatura máxima (°C)',
          color: '#444',
          font: { family: FONT, size: 14 },
          padding: { top: 21, bottom: 0 }
        }
      }
    }
  },
  plugins: [extras]
});
</script>
</body>
</html>
